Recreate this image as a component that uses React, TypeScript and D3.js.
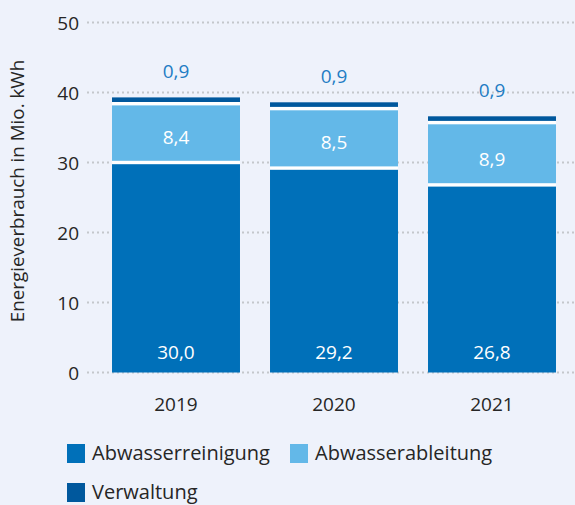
import React, { useRef, useEffect } from "react";
import * as d3 from "d3";

const years = ["2019", "2020", "2021"];
const abwasserreinigung = [30.0, 29.2, 26.8];
const abwasserableitung = [8.4, 8.5, 8.9];
const verwaltung = [0.9, 0.9, 0.9];
const seriesNames = ["Abwasserreinigung", "Abwasserableitung", "Verwaltung"];
const yTicks = [0, 10, 20, 30, 40, 50];

const colors = ["#0070b9", "#63b8e8", "#00589d"];
const fmt = (v: number) => v.toFixed(1).replace(".", ",");

const App = () => {
  const svgRef = useRef<SVGSVGElement>(null);

  useEffect(() => {
    const width = 575;
    const height = 505;
    const font = "'Open Sans', 'Noto Sans', sans-serif";
    const ink = "#262626";

    const svg = d3.select(svgRef.current);
    svg.selectAll("*").remove();
    svg.attr("width", width).attr("height", height);

    svg.append("rect").attr("width", width).attr("height", height).attr("fill", "#eef2fb");

    const y = d3.scaleLinear().domain([0, 50]).range([372.5, 22.5]);
    const x = d3.scaleBand().domain(years).range([97, 571]).paddingInner(0.19).paddingOuter(0.095);

    // dotted grid lines + tick labels
    const grid = svg.append("g");
    grid
      .selectAll("line")
      .data(yTicks)
      .enter()
      .append("line")
      .attr("x1", 87)
      .attr("x2", width)
      .attr("y1", (d) => y(d))
      .attr("y2", (d) => y(d))
      .attr("stroke", "#c4c7cc")
      .attr("stroke-width", 2)
      .attr("stroke-dasharray", "2,3");
    grid
      .selectAll("text")
      .data(yTicks)
      .enter()
      .append("text")
      .attr("x", 79)
      .attr("y", (d) => y(d) + 7)
      .attr("text-anchor", "end")
      .attr("font-family", font)
      .attr("font-size", 19)
      .attr("fill", ink)
      .text((d) => d);

    // stacked bars
    const rows = years.map((yr, i) => ({
      year: yr,
      vals: [abwasserreinigung[i], abwasserableitung[i], verwaltung[i]],
    }));
    const bars = svg
      .selectAll("g.bar")
      .data(rows)
      .enter()
      .append("g")
      .attr("class", "bar")
      .attr("transform", (d) => `translate(${x(d.year)},0)`);

    bars.each(function (d) {
      const g = d3.select(this);
      const bw = x.bandwidth();
      let base = 0;
      d.vals.forEach((v, k) => {
        g.append("rect")
          .attr("x", 0)
          .attr("width", bw)
          .attr("y", y(base + v))
          .attr("height", y(base) - y(base + v))
          .attr("fill", colors[k]);
        base += v;
      });
      // white separators between segments
      let c = 0;
      d.vals.slice(0, 2).forEach((v) => {
        c += v;
        g.append("rect")
          .attr("x", 0)
          .attr("width", bw)
          .attr("y", y(c) - 1.7)
          .attr("height", 3.4)
          .attr("fill", "#ffffff");
      });
      const total = d3.sum(d.vals);
      const cx = bw / 2;
      const label = (ty: number, fill: string, t: string) =>
        g.append("text")
          .attr("x", cx)
          .attr("y", ty)
          .attr("text-anchor", "middle")
          .attr("font-family", font)
          .attr("font-size", 19)
          .attr("fill", fill)
          .text(t);
      label(y(0) - 14, "#ffffff", fmt(d.vals[0]));
      label(y(d.vals[0]) - 19, "#ffffff", fmt(d.vals[1]));
      label(y(total) - 19, "#1f7dc4", fmt(d.vals[2]));
      label(411, ink, d.year);
    });

    // y axis title
    svg
      .append("text")
      .attr("transform", "translate(24,191) rotate(-90)")
      .attr("text-anchor", "middle")
      .attr("font-family", font)
      .attr("font-size", 18.8)
      .attr("fill", ink)
      .text("Energieverbrauch in Mio. kWh");

    // legend
    const legendPos = [
      [67, 444],
      [290, 444],
      [67, 483],
    ];
    const legend = svg
      .selectAll("g.legend")
      .data(seriesNames)
      .enter()
      .append("g")
      .attr("class", "legend")
      .attr("transform", (_, i) => `translate(${legendPos[i][0]},${legendPos[i][1]})`);
    legend
      .append("rect")
      .attr("width", 18)
      .attr("height", 19)
      .attr("fill", (_, i) => colors[i]);
    legend
      .append("text")
      .attr("x", 25)
      .attr("y", 16)
      .attr("font-family", font)
      .attr("font-size", 20)
      .attr("fill", ink)
      .text((d) => d);
  }, []);

  return (
    <div style={{ position: "absolute", left: 0, top: 0 }}>
      <svg ref={svgRef} style={{ display: "block" }}></svg>
    </div>
  );
};

export default App;
